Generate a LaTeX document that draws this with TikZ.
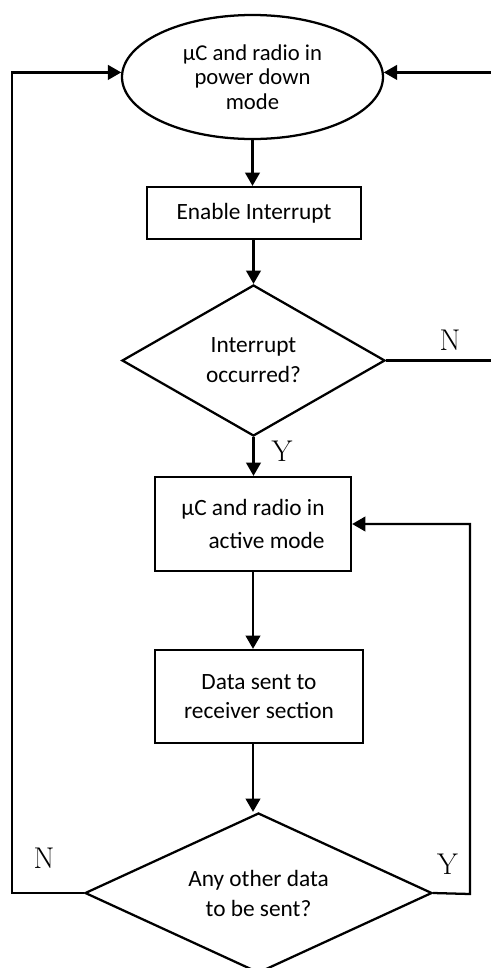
\documentclass[tikz,border=0pt]{standalone}
\usepackage{fontspec}
\newfontfamily\calfont{Carlito}
\usetikzlibrary{shapes.geometric,arrows.meta,calc}
\begin{document}
\begin{tikzpicture}[x=0.75pt,y=-0.75pt,line width=1.7pt,
  arr/.style={-{Triangle[width=11pt,length=10pt]}},
  txt/.style={font=\calfont\fontsize{17.5}{22}\selectfont,align=center},
  boxnode/.style={draw,rectangle,inner sep=0pt,txt},
  decnode/.style={draw,diamond,inner sep=0pt,txt},
  lbl/.style={font=\fontsize{22.5}{23}\selectfont,inner sep=0pt}]
\useasboundingbox (0,0) rectangle (491,968);
% nodes
\node[draw,ellipse,inner sep=0pt,minimum width=195.75pt,minimum height=93pt,
  font=\calfont\fontsize{17}{18.5}\selectfont,align=center] (ell) at (252.5,77)
  {µC and radio in\\power down\\mode};
\node[boxnode,minimum width=160.5pt,minimum height=39pt] (en) at (254,213) {Enable Interrupt};
\node[decnode,aspect=1.75,minimum width=197.25pt,minimum height=113.25pt,
  font=\calfont\fontsize{17.5}{22.5}\selectfont] (d1) at (253.5,360.5) {Interrupt\\occurred?};
\node[boxnode,minimum width=147pt,minimum height=70.5pt,align=right,
  font=\calfont\fontsize{17.5}{25}\selectfont] (b2) at (253,524) {µC and radio in\\active mode};
\node[boxnode,minimum width=156pt,minimum height=69.75pt,
  font=\calfont\fontsize{17.5}{21.5}\selectfont] (b3) at (259,696.5) {Data sent to\\receiver section};
\node[decnode,aspect=2.17,minimum width=260.25pt,minimum height=120pt,
  font=\calfont\fontsize{17.5}{22.5}\selectfont] (d2) at (258.5,893) {Any other data\\to be sent?};
% labels
\node[lbl] (n1) at (450,340) {N};
\node[lbl] (y1) at (282,451) {Y};
\node[lbl] (n2) at (44,858) {N};
\node[lbl] (y2) at (447.5,864.5) {Y};
% helper coordinates
\coordinate (rtop) at (494,360.5);
\coordinate (rloop) at (470,894);
\coordinate (lloop) at (12,893);
% connectors
\draw[arr] (ell.south) -- (ell.south |- en.north);
\draw[arr] (en.south -| d1.north) -- (d1.north);
\draw[arr] (d1.south) -- (d1.south |- b2.north);
\draw[arr] (b2.south) -- (b2.south |- b3.north);
\draw[arr] (b2.south |- b3.south) -- (b2.south |- d2.north);
\draw[arr] (d2.east) -- (rloop) |- (b2.east);
\draw[arr] (d2.west) -- (lloop) |- (ell.178);
\draw[arr] (d1.east) -- (rtop) |- (ell.2);
\end{tikzpicture}
\end{document}
